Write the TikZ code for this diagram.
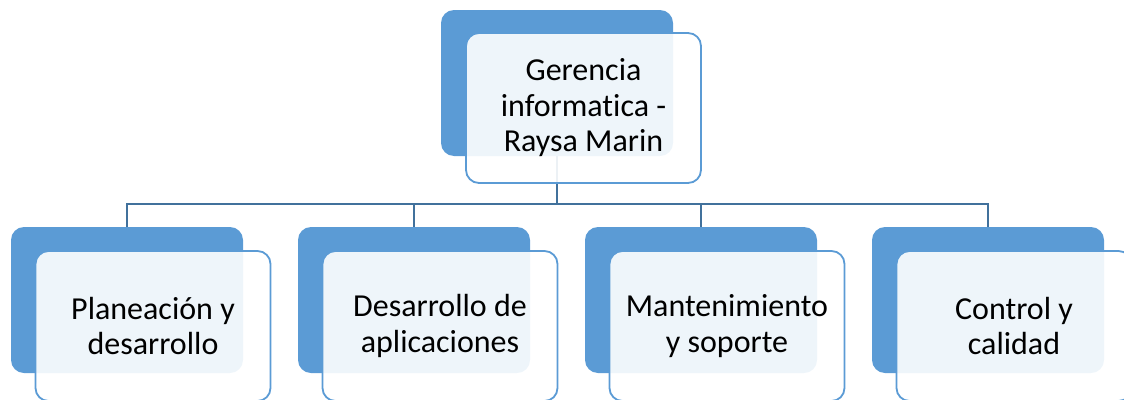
\documentclass[tikz,border=0pt]{standalone}
\usepackage{fontspec}
\setmainfont{Carlito}[Ligatures=NoCommon]
\definecolor{accent}{HTML}{5B9BD5}
\definecolor{linec}{HTML}{41719C}
\begin{document}
\begin{tikzpicture}[x=1pt,y=-1pt,
  backbox/.style={rectangle,rounded corners=13pt,fill=accent,draw=none,
    minimum width=232pt,minimum height=146pt,inner sep=0pt},
  frontbox/.style={rectangle,rounded corners=13pt,fill=white,fill opacity=0.9,text opacity=1,
    draw=accent,line width=1.8pt,minimum width=235pt,minimum height=150pt,inner sep=0pt,
    align=center,font=\fontsize{32}{35.5}\selectfont},
  conn/.style={draw=linec,line width=2pt}]
\useasboundingbox (0,0) rectangle (1124,399);
\clip (0,0) rectangle (1124,399);
% back boxes
\node[backbox] (b0) at (557,83) {};
\node[backbox] (b1) at (127,300) {};
\node[backbox] (b2) at (414,300) {};
\node[backbox] (b3) at (701,300) {};
\node[backbox] (b4) at (988,300) {};
% connectors
\coordinate (bus) at (557,204);
\draw[conn] (b0.south) -- (bus);
\draw[conn] (bus) -| (b1.north);
\draw[conn] (bus) -| (b2.north);
\draw[conn] (bus) -| (b3.north);
\draw[conn] (bus) -| (b4.north);
% front boxes
\node[frontbox] (f0) at (583.5,108) {Gerencia\\informatica -\\Raysa Marin};
\node[frontbox] (f1) at (153,326) {Planeación y\\desarrollo};
\node[frontbox] (f2) at (440,326) {Desarrollo de\\aplicaciones};
\node[frontbox] (f3) at (727,326) {Mantenimiento\\y soporte};
\node[frontbox] (f4) at (1014,326) {Control y\\calidad};
\end{tikzpicture}
\end{document}
